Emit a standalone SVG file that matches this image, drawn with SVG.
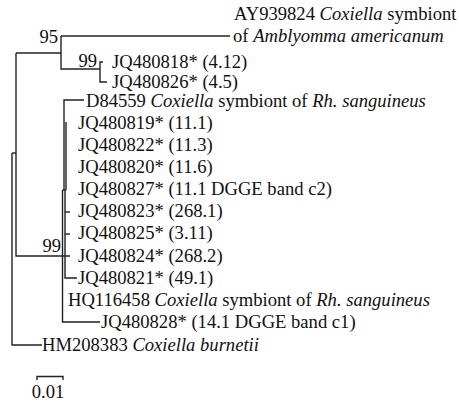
<svg xmlns="http://www.w3.org/2000/svg" width="459" height="403" viewBox="0 0 459 403">
<style>
text{font-family:"Liberation Serif","Times New Roman",serif;font-size:18.6px;fill:#111}
.i{font-style:italic}
.br{fill:none;stroke:#222;stroke-width:1.4}
</style>
<rect width="459" height="403" fill="#fff"/>
<g id="connectors" class="br">
<path d="M12 153V345H42"/>
<path d="M12 153H16"/>
<path d="M16 53V256H70"/>
<path d="M16 53H61"/>
<path d="M61 36V69H100"/>
<path d="M61 36H230"/>
<path d="M103 62H100V82H107"/>
<path d="M84 100H64V190"/>
<path d="M66 122V190"/>
<path d="M62.5 190H66"/>
<path d="M62.5 190V322H100"/>
<path d="M65 190V278H77"/>
<path d="M65 212H70"/>
<path d="M65 234H70"/>
</g>
<g id="scale" class="br"><path d="M37 380V376.5H63V380"/></g>
<text x="48" y="398" text-anchor="middle">0.01</text>
<g id="bootstrap">
<text x="58" y="43" text-anchor="end">95</text>
<text x="97" y="67" text-anchor="end">99</text>
<text x="61" y="252" text-anchor="end">99</text>
</g>
<g id="AY939824"><text x="234" y="20">AY939824 <tspan class="i">Coxiella</tspan> symbiont</text><text x="233" y="42">of <tspan class="i">Amblyomma americanum</tspan></text></g>
<g id="JQ480818"><text x="112" y="68">JQ480818* (4.12)</text></g>
<g id="JQ480826"><text x="112" y="88">JQ480826* (4.5)</text></g>
<g id="D84559"><text x="86" y="107">D84559 <tspan class="i">Coxiella</tspan> symbiont of <tspan class="i">Rh. sanguineus</tspan></text></g>
<g id="JQ480819"><text x="78" y="129">JQ480819* (11.1)</text></g>
<g id="JQ480822"><text x="78" y="151">JQ480822* (11.3)</text></g>
<g id="JQ480820"><text x="78" y="173">JQ480820* (11.6)</text></g>
<g id="JQ480827"><text x="78" y="195">JQ480827* (11.1 DGGE band c2)</text></g>
<g id="JQ480823"><text x="78" y="217">JQ480823* (268.1)</text></g>
<g id="JQ480825"><text x="78" y="239">JQ480825* (3.11)</text></g>
<g id="JQ480824"><text x="78" y="262">JQ480824* (268.2)</text></g>
<g id="JQ480821"><text x="78" y="284">JQ480821* (49.1)</text></g>
<g id="HQ116458"><text x="68" y="306">HQ116458 <tspan class="i">Coxiella</tspan> symbiont of <tspan class="i">Rh. sanguineus</tspan></text></g>
<g id="JQ480828"><text x="101" y="328">JQ480828* (14.1 DGGE band c1)</text></g>
<g id="HM208383"><text x="42" y="351">HM208383 <tspan class="i">Coxiella burnetii</tspan></text></g>
</svg>
